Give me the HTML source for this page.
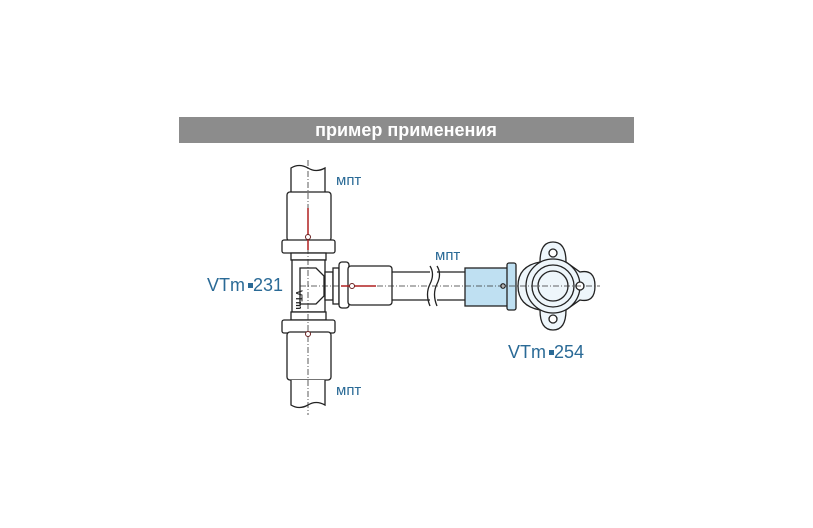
<!DOCTYPE html>
<html><head><meta charset="utf-8"><style>
body{margin:0;background:#fff;width:813px;height:528px;overflow:hidden}
svg{position:absolute;left:0;top:0}
text{font-family:"Liberation Sans",sans-serif}
</style></head><body>
<svg width="813" height="528" viewBox="0 0 813 528">
<rect x="179" y="117" width="455" height="26" fill="#8c8c8c"/>
<text x="406" y="136" text-anchor="middle" font-size="18" font-weight="bold" fill="#fff">пример применения</text>
<g stroke="#222" stroke-width="1.3" fill="#fff">
<path d="M291,193 V168 q8,-5 17,0 q8,5 17,0 V193"/>
<rect x="287" y="192" width="44" height="49" rx="3"/>
<rect x="282" y="240" width="53" height="13" rx="2"/>
<rect x="291" y="253" width="35" height="7"/>
<rect x="292" y="260" width="33" height="52"/>
<path d="M300,268 h16 l8,8 v20 l-8,8 h-16 z" fill="#fff"/>
<rect x="291" y="312" width="35" height="8"/>
<rect x="282" y="320" width="53" height="13" rx="2"/>
<rect x="287" y="332" width="44" height="48" rx="3"/>
<path d="M291,380 V405 q8,5 17,0 q8,-5 17,0 V380"/>
<rect x="325" y="272" width="8" height="28"/>
<rect x="333" y="268" width="6" height="36"/>
<rect x="339" y="262" width="10" height="46" rx="3"/>
<rect x="348" y="266" width="44" height="39" rx="3"/>
<path d="M392,272 H430 M392,300 H430 M437,272 H465 M437,300 H465"/>
<path d="M430,266 q5,8 0,18 q-5,10 0,22 M437,266 q5,8 0,18 q-5,10 0,22" fill="none"/>
<rect x="465" y="268" width="43" height="38" fill="#bfe0f2"/>
<rect x="507" y="263" width="9" height="47" rx="2" fill="#bfe0f2"/>
<path d="M540,262 q0,-20 13,-20 q13,0 13,20 L580,272 q15,-3 15,14 q0,17 -15,14 L566,310 q0,20 -13,20 q-13,0 -13,-20 q-22,-4 -22,-24 q0,-20 22,-24z" fill="#eef6fb"/>
<circle cx="553" cy="286" r="27" fill="#eef6fb"/>
<circle cx="553" cy="286" r="21" fill="#eef6fb"/>
<circle cx="553" cy="286" r="15" fill="#eef6fb"/>
<circle cx="553" cy="253" r="4"/>
<circle cx="553" cy="319" r="4"/>
<circle cx="580" cy="286" r="4"/>
<circle cx="503" cy="286" r="2.2"/>
</g>
<text x="314" y="300" font-size="9" font-weight="bold" transform="rotate(90 310 286)" fill="#222">VTm</text>
<g stroke="#333" stroke-width="0.8" stroke-dasharray="6,2,1,2" fill="none">
<path d="M308,160 V415"/>
<path d="M300,286 H600"/>
</g>
<g stroke="#b02020" stroke-width="1.5">
<path d="M308,208 V250"/><path d="M341,286 H376"/>
</g>
<g fill="#fff" stroke="#6a2020" stroke-width="1"><circle cx="308" cy="237" r="2.5"/><circle cx="352" cy="286" r="2.5"/><circle cx="308" cy="334" r="2.5"/></g>
<g fill="#2a6a96" font-size="15">
<text x="336" y="185">мпт</text>
<text x="336" y="395">мпт</text>
<text x="435" y="260">мпт</text>
</g>
<g fill="#2a6a96" font-size="18">
<text x="207" y="291">VTm</text><rect x="248" y="283" width="5" height="5"/><text x="253" y="291">231</text>
<text x="508" y="358">VTm</text><rect x="549" y="350" width="5" height="5"/><text x="554" y="358">254</text>
</g>
</svg>
</body></html>
